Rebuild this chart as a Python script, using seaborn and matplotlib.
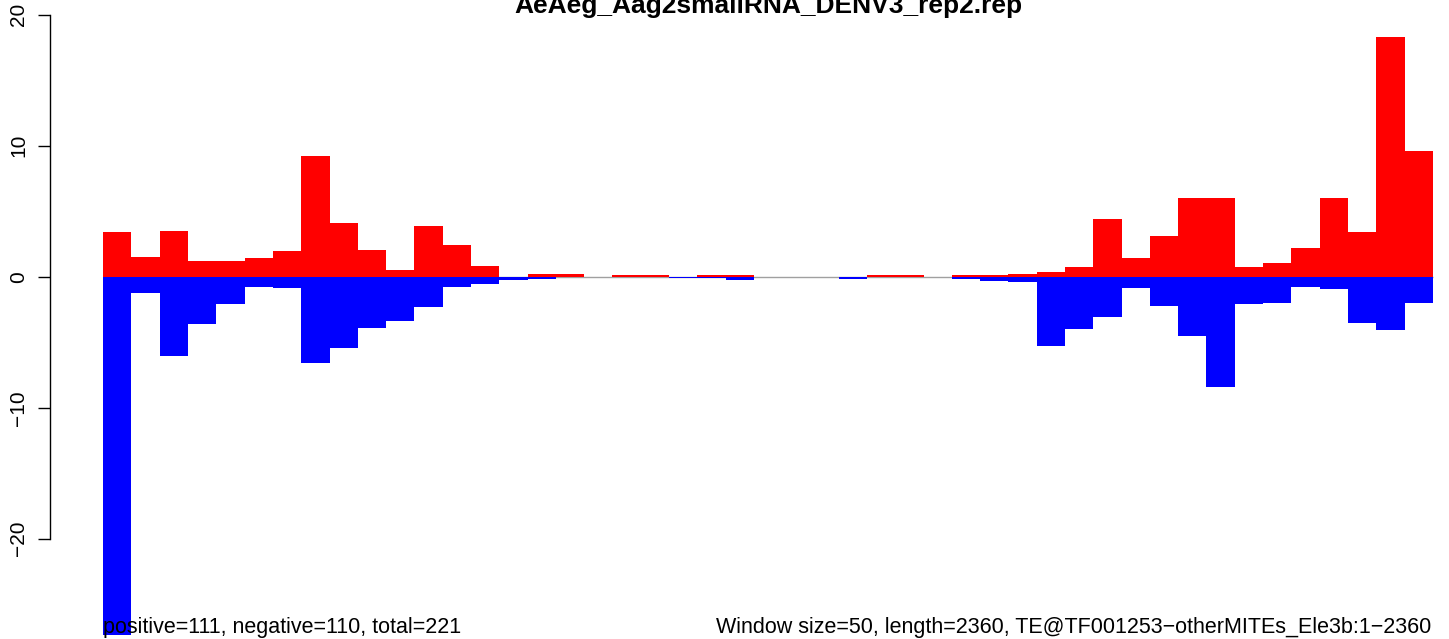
import matplotlib
matplotlib.use("Agg")
import matplotlib.pyplot as plt
import seaborn as sns
import pandas as pd
import numpy as np

title = "AeAeg_Aag2smallRNA_DENV3_rep2.rep"
left_note = "positive=111, negative=110, total=221"
right_note = "Window size=50, length=2360, TE@TF001253\u2212otherMITEs_Ele3b:1\u22122360"

positive = [3.4, 1.5, 3.5, 1.2, 1.2, 1.4, 2.0, 9.2, 4.1, 2.05, 0.5, 3.9, 2.4, 0.8,
            0.0, 0.2, 0.2, 0.0, 0.1, 0.1, 0.0, 0.1, 0.1, 0.0, 0.0, 0.0, 0.0, 0.1,
            0.1, 0.0, 0.1, 0.1, 0.18, 0.33, 0.76, 4.4, 1.4, 3.1, 6.0, 6.0, 0.75,
            1.05, 2.2, 6.0, 3.4, 18.3, 9.6]
negative = [-28.0, -1.25, -6.05, -3.6, -2.08, -0.76, -0.87, -6.58, -5.45, -3.92,
            -3.38, -2.28, -0.76, -0.55, -0.22, -0.15, 0.0, 0.0, 0.0, 0.0, -0.1,
            -0.1, -0.25, 0.0, 0.0, -0.05, -0.15, 0.0, 0.0, 0.0, -0.15, -0.3,
            -0.38, -5.27, -3.97, -3.05, -0.84, -2.2, -4.5, -8.4, -2.06, -1.98,
            -0.76, -0.92, -3.5, -4.05, -1.98]
window = list(range(1, len(positive) + 1))
yticks = [-20, -10, 0, 10, 20]

df = pd.DataFrame({"window": window, "positive": positive, "negative": negative})

W, H = 1449, 639
fig = plt.figure(figsize=(W / 100, H / 100), dpi=100)
plt.rcParams['font.family'] = ['Liberation Sans', 'DejaVu Sans']

# plot region (R style), extends beyond the right edge of the image
ax = fig.add_axes([50 / W, 1 - 635 / H, 1436 / W, 630 / H])
n = len(window)
ax.hlines(0, -0.5, n - 0.5, color="#A0A0A0", lw=1.0, zorder=0)
sns.barplot(data=df, x="window", y="positive", color="#FF0000", saturation=1,
            width=1.0, linewidth=0, ax=ax, zorder=2)
sns.barplot(data=df, x="window", y="negative", color="#0000FF", saturation=1,
            width=1.0, linewidth=0, ax=ax, zorder=2)

ext = 0.04 * n
ax.set_xlim(-0.5 - ext, n - 0.5 + ext)
ax.set_ylim(-27.35, 20.74)
ax.set_xlabel("")
ax.set_ylabel("")
ax.set_xticks([])
for s in ["top", "right", "bottom"]:
    ax.spines[s].set_visible(False)
ax.spines["left"].set_bounds(-20, 20)
ax.spines["left"].set_linewidth(1.0)
ax.set_yticks(yticks)
ax.set_yticklabels([str(t).replace("-", "\u2212") for t in yticks], rotation=90,
                   va="center", fontsize=15)
ax.tick_params(axis="y", length=8.6, width=1.0, pad=7)
ax.patch.set_alpha(0)

fig.text(768 / W, 1 - 13 / H, title, ha="center", va="baseline",
         fontsize=19, fontweight="bold")
fig.text(103 / W, 1 - 633 / H, left_note, ha="left", va="baseline", fontsize=15.5)
fig.text(1431 / W, 1 - 633 / H, right_note, ha="right", va="baseline", fontsize=15.5)

fig.savefig("out.png", dpi=100)
